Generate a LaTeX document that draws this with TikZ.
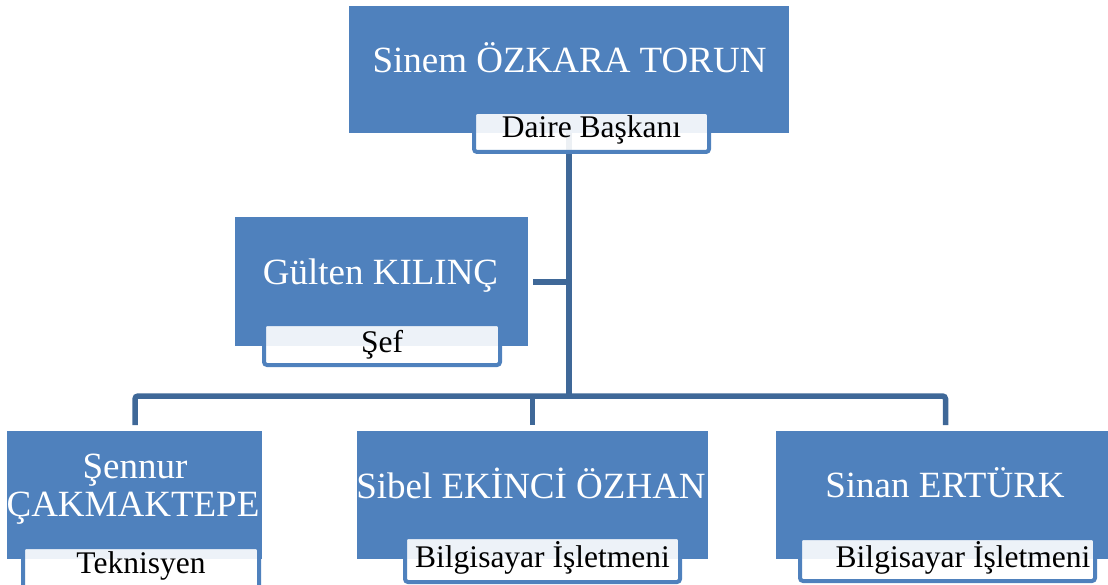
\documentclass[tikz,border=0pt]{standalone}
\usepackage{fontspec}
\setmainfont{Liberation Serif}
\usetikzlibrary{calc}
\definecolor{boxblue}{HTML}{4F81BD}
\definecolor{linkblue}{HTML}{3F6898}
\begin{document}
\begin{tikzpicture}[x=1pt,y=-1pt,
  orgbox/.style={rectangle, fill=boxblue, draw=none, inner sep=0pt, outer sep=0pt},
  roletag/.style={rectangle, draw=boxblue, line width=4pt, fill=white, fill opacity=0.9, text opacity=1, rounded corners=3pt, inner sep=0pt, outer sep=0pt},
  orglink/.style={draw=linkblue, line width=5.5pt, rounded corners=3pt},
  persontext/.style={text=white, font=\fontsize{37}{40}\selectfont, anchor=base, inner sep=0pt},
  roletext/.style={text=black, font=\fontsize{31.5}{34}\selectfont, anchor=base, inner sep=0pt}]
\useasboundingbox (0,0) rectangle (1108,585);

% connectors (drawn first, under the boxes)
\coordinate (topfoot) at (569,133);
\coordinate (busmain) at (569,396);
\coordinate (gjoin) at (569,282);
\coordinate (gend) at (533,282);
\coordinate (ldrop) at (135,425);
\coordinate (mdrop) at (532.5,425);
\coordinate (rdrop) at (945.5,425);
\coordinate (mbus) at (532.5,396);
\draw[orglink] (topfoot) -- (busmain);
\draw[orglink] (gend) -- (gjoin);
\draw[orglink] (ldrop) |- (busmain) -| (rdrop);
\draw[orglink] (mbus) -- (mdrop);

% boxes
\node[orgbox, minimum width=440pt, minimum height=127pt] (top) at (569,69.5) {};
\node[orgbox, minimum width=293pt, minimum height=129pt] (gul) at (381.5,281.5) {};
\node[orgbox, minimum width=255pt, minimum height=128pt] (left) at (134.5,495) {};
\node[orgbox, minimum width=351pt, minimum height=128pt] (mid) at (532.5,495) {};
\node[orgbox, minimum width=339pt, minimum height=128pt] (right) at (945.5,495) {};

% names
\node[persontext] (ntop) at (569.5,73) {Sinem ÖZKARA TORUN};
\node[persontext] (ngul) at (380.5,285) {Gülten KILINÇ};
\node[persontext] (nleft1) at (135,478) {Şennur};
\node[persontext] (nleft2) at (133,516) {ÇAKMAKTEPE};
\node[persontext] (nmid) at (531,498) {Sibel EKİNCİ ÖZHAN};
\node[persontext] (nright) at (945,497) {Sinan ERTÜRK};

% role tags
\node[roletag, minimum width=235pt, minimum height=40pt] (ttop) at (591.5,132) {};
\node[roletag, minimum width=236pt, minimum height=41pt] (tgul) at (382,344.5) {};
\node[roletag, minimum width=236pt, minimum height=53pt] (tleft) at (141,573.5) {};
\node[roletag, minimum width=275pt, minimum height=45pt] (tmid) at (542.5,559.5) {};
\node[roletag, minimum width=295pt, minimum height=43pt] (tright) at (947.5,559.5) {};

\node[roletext] (rtop) at (591.5,138) {Daire Başkanı};
\node[roletext] (rgul) at (382,352) {Şef};
\node[roletext] (rleft) at (141,573) {Teknisyen};
\node[roletext] (rmid) at (542.5,567) {Bilgisayar İşletmeni};
\node[roletext] (rright) at (963,567) {Bilgisayar İşletmeni};
\end{tikzpicture}
\end{document}
